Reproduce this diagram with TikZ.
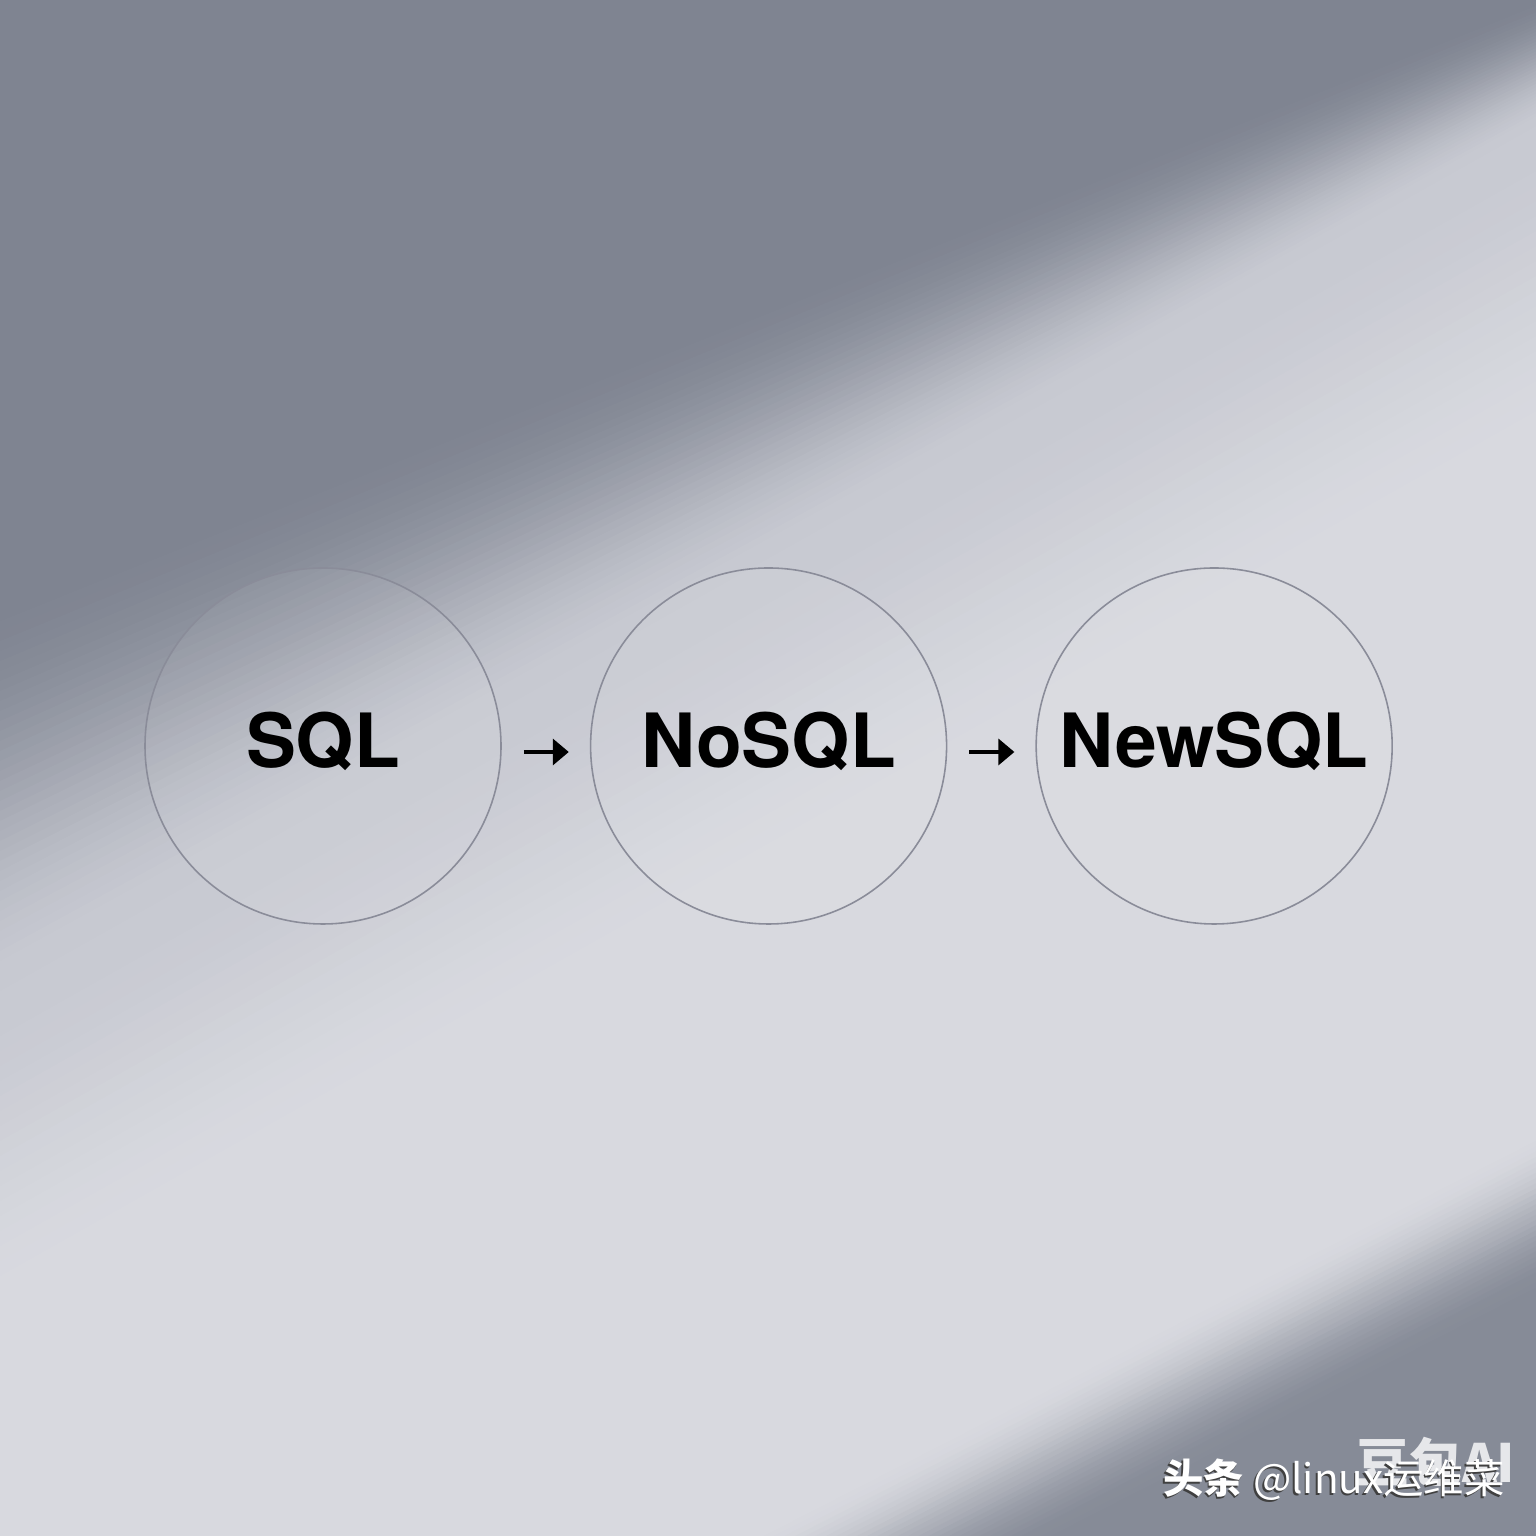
\documentclass[tikz,border=0pt]{standalone}
\usepackage{fontspec}
\setmainfont{TeX Gyre Heros}
\newfontfamily\cjk{Noto Sans CJK SC}
\usetikzlibrary{positioning,arrows.meta}

\definecolor{bgdark}{RGB}{127,132,145}
\definecolor{bglight}{RGB}{200,202,210}
\definecolor{bgpale}{RGB}{216,217,223}
\definecolor{cornershade}{RGB}{134,139,151}
\definecolor{rimgray}{RGB}{138,140,153}

\tikzset{
  stage/.style={circle, draw=rimgray, line width=0.45pt, minimum size=3.56cm,
    inner sep=0pt, fill=white, fill opacity=0.06, text opacity=1,
    font=\bfseries\fontsize{21.3}{21.3}\selectfont, text height=15.2pt, text depth=2.8pt},
  flow/.style={-{Triangle[length=1.6mm,width=2.6mm]}, line width=1pt, black,
    shorten <=2.2mm, shorten >=2.1mm},
  wmark/.style={font=\cjk\fontsize{11.5}{11.5}\selectfont, inner sep=0pt}
}

\begin{document}
\begin{tikzpicture}
    \useasboundingbox (0,0) rectangle (15.36,15.36);
    \clip (0,0) rectangle (15.36,15.36);
    % background: dark top, light beam fanning out from the top right
    \fill[bgdark] (0,0) rectangle (15.36,15.36);
    \foreach \i in {0,...,40} {
        \pgfmathsetmacro\t{\i/40}
        \pgfmathtruncatemacro\p{100*(3*\t^2-2*\t^3)}
        \fill[bglight!\p!bgdark] (0,9.45-4.0*\t) -- (15.36,15.40-1.3*\t)
            -- (15.36,-1) -- (0,-1) -- cycle;
    }
    \foreach \i in {1,...,20} {
        \pgfmathsetmacro\t{\i/20}
        \pgfmathtruncatemacro\p{100*(3*\t^2-2*\t^3)}
        \fill[bgpale!\p!bglight] (0,5.45-3.0*\t) -- (15.36,14.10-3.0*\t)
            -- (15.36,-1) -- (0,-1) -- cycle;
    }
    % shadow in the lower right corner
    \begin{scope}[shift={(13.18,2.15)}, rotate=-62.9]
        \foreach \k in {0,...,30} {
            \pgfmathsetmacro\t{\k/30}
            \pgfmathtruncatemacro\p{100*(3*\t^2-2*\t^3)}
            \fill[cornershade!\p!bgpale] (-0.7+1.4*\t,-9) rectangle (9,9);
        }
    \end{scope}

    \node[stage] (sql) at (3.23,7.90) {SQL};
    \node[stage, right=0.88cm of sql] (nosql) {NoSQL};
    \node[stage, right=0.88cm of nosql] (newsql) {NewSQL};

    \draw[flow] ([yshift=-0.6mm]sql.east) -- ([yshift=-0.6mm]nosql.west);
    \draw[flow] ([yshift=-0.6mm]nosql.east) -- ([yshift=-0.6mm]newsql.west);

    % watermark
    \node[font=\cjk\bfseries\fontsize{15}{15}\selectfont, text=white, opacity=0.8] (aitag) at (14.36,0.74) {豆包AI};
    \node[wmark, text=black!75] (wshadow) at (13.325,0.54) {{\bfseries 头条} @linux运维菜};
    \node[wmark, text=white] (wtext) at (13.34,0.56) {{\bfseries 头条} @linux运维菜};
\end{tikzpicture}
\end{document}
